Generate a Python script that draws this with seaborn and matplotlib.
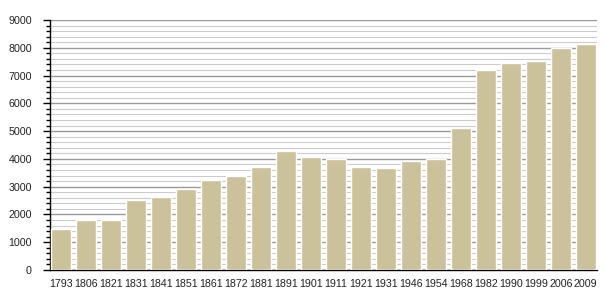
import matplotlib
matplotlib.use("Agg")
import matplotlib.pyplot as plt
import seaborn as sns
import pandas as pd
from matplotlib.ticker import MultipleLocator

years = ["1793", "1806", "1821", "1831", "1841", "1851", "1861", "1872", "1881", "1891",
         "1901", "1911", "1921", "1931", "1946", "1954", "1968", "1982", "1990", "1999",
         "2006", "2009"]
population = [1480, 1790, 1800, 2530, 2630, 2920, 3240, 3370, 3710, 4290,
              4070, 3990, 3710, 3680, 3930, 4000, 5130, 7200, 7450, 7540,
              7980, 8150]

sns.set_style("white")
plt.rcParams['font.family'] = ['Liberation Sans', 'DejaVu Sans']

df = pd.DataFrame({"year": years, "pop": population})

fig = plt.figure(figsize=(6.05, 3.0), dpi=100)
ax = fig.add_axes([50/605, 30/300, 547/605, 250/300])

sns.barplot(data=df, x="year", y="pop", color="#cbc19a", saturation=1,
            width=0.82, ax=ax, zorder=3)

ax.set_xlim(-0.45, len(years) - 0.55)
ax.set_ylim(0, 9000)
ax.yaxis.set_major_locator(MultipleLocator(1000))
ax.yaxis.set_minor_locator(MultipleLocator(200))
ax.grid(axis="y", which="major", color="#999999", linewidth=1.0, zorder=0)
ax.grid(axis="y", which="minor", color="#cccccc", linewidth=0.8, zorder=0)
ax.set_axisbelow(True)

for s in ["top", "right"]:
    ax.spines[s].set_visible(False)
ax.spines["left"].set_color("black")
ax.spines["bottom"].set_color("black")
ax.spines["left"].set_linewidth(1.0)
ax.spines["bottom"].set_linewidth(1.0)

ax.tick_params(axis="y", which="major", left=True, length=5, width=1, color="black",
               labelsize=7.7, pad=8, labelcolor="#222222")
ax.tick_params(axis="y", which="minor", left=True, length=3, width=1, color="black")
ax.tick_params(axis="x", which="both", bottom=False, labelsize=7.7, pad=3,
               labelcolor="#222222")
ax.set_xlabel("")
ax.set_ylabel("")

fig.savefig("out.png", dpi=100)
